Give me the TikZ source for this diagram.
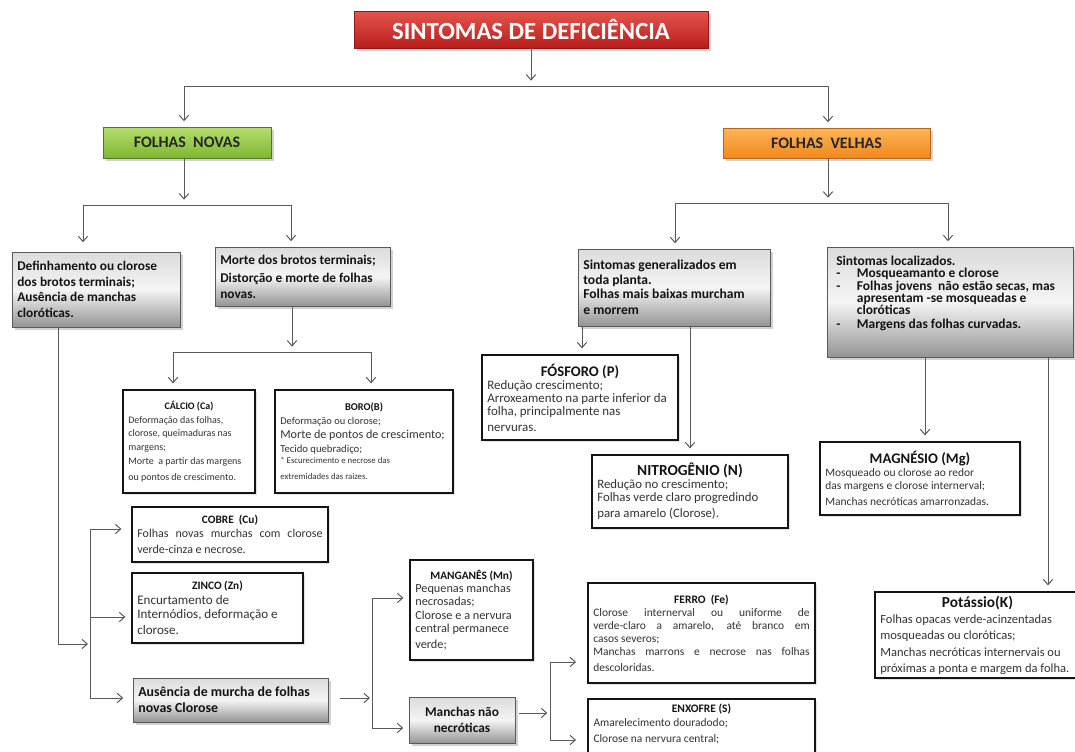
\documentclass[tikz,border=0pt]{standalone}
\usepackage{fontspec}
\setmainfont{Carlito}
\usetikzlibrary{arrows.meta,shadows,calc}
\definecolor{lnc}{HTML}{5A5A5A}
\definecolor{rtop}{HTML}{E5544D}
\definecolor{rbot}{HTML}{B81E1C}
\definecolor{rdraw}{HTML}{8E1A18}
\definecolor{gtop}{HTML}{B6DF6E}
\definecolor{gbot}{HTML}{7DB633}
\definecolor{gdraw}{HTML}{4F7A21}
\definecolor{otop}{HTML}{FDB55A}
\definecolor{obot}{HTML}{F2891C}
\definecolor{odraw}{HTML}{B5651A}
\definecolor{hdtext}{HTML}{262626}
\newcommand\myfs[2]{\fontsize{#1pt}{#2pt}\selectfont\spaceskip=\fontdimen2\font\relax
  \xspaceskip=0pt\hyphenpenalty=10000\exhyphenpenalty=10000\lineskiplimit=-20pt\relax}
\newcommand\mytitle[1]{\makebox[\linewidth][c]{\bfseries\color{black!92}#1}}
\newcommand\myjust[1]{\makebox[\linewidth][s]{\spaceskip=\fontdimen2\font plus 1fil\relax #1}}
\newcommand\mydash{\makebox[15.5pt][l]{-}}
\newcommand\mybox[7]{%
  \pgfmathsetmacro\bxw{(#5-#3)*0.75}%
  \pgfmathsetmacro\bxh{(#6-#4)*0.75}%
  \pgfmathsetmacro\bxtw{(#5-#3)*0.75-8}%
  \pgfmathsetmacro\bxcx{(#3+#5)/2}%
  \pgfmathsetmacro\bxcy{(#4+#6)/2}%
  \node[#1, minimum width=\bxw pt, minimum height=\bxh pt, text width=\bxtw pt] (#2) at (\bxcx,\bxcy) {#7};}
\tikzset{
  ln/.style={draw=lnc, line width=0.75pt},
  arr/.style={ln, -{Straight Barb[length=4pt,width=7pt]}, shorten >=4pt},
  shd/.style={drop shadow={shadow xshift=2pt, shadow yshift=-2pt, opacity=0.35}},
  titleb/.style={draw=rdraw, line width=0.5pt, top color=rtop, bottom color=rbot, shd,
    text=white, font=\bfseries, align=center, inner xsep=4pt, inner ysep=1pt},
  greenb/.style={draw=gdraw, line width=0.6pt, top color=gtop, bottom color=gbot, shd,
    text=hdtext, font=\bfseries, align=center, inner xsep=4pt, inner ysep=1pt},
  orangeb/.style={draw=odraw, line width=0.6pt, top color=otop, bottom color=obot, shd,
    text=hdtext, font=\bfseries, align=center, inner xsep=4pt, inner ysep=1pt},
  grayb/.style={draw=black!65, line width=0.6pt, top color=black!14, bottom color=black!42,
    middle color=black!4, shd, text=black!92, font=\bfseries, align=left,
    inner xsep=4pt, inner ysep=1pt},
  elem/.style={draw=black!92, line width=1.9pt, fill=white, text=black!80, align=left,
    inner xsep=4pt, inner ysep=1pt,
    drop shadow={shadow xshift=1.2pt, shadow yshift=-1.2pt, opacity=0.22}},
  txt/.style={inner sep=0pt, align=left}
}
\begin{document}
\begin{tikzpicture}[x=0.75pt,y=-0.75pt]
\path[use as bounding box, clip] (0,0) rectangle (1075,751);
\fill[white] (0,0) rectangle (1075,751);

% ---------- header boxes
\mybox{titleb}{title}{354}{11}{708}{48}{\myfs{18.5}{20}SINTOMAS DE DEFICIÊNCIA}
\mybox{greenb}{novas}{103}{127}{271}{158}{\myfs{12}{14}FOLHAS\ \ NOVAS}
\mybox{orangeb}{velhas}{723}{128}{930}{158}{\myfs{12}{14}FOLHAS\ \ VELHAS}

% ---------- gray boxes
\mybox{grayb}{g1}{12}{252}{180}{327}{\myfs{10}{11.5}Definhamento ou clorose\\dos brotos terminais;\\Ausência de manchas\\cloróticas.}
\mybox{grayb}{g2}{215}{247}{390}{306}{\myfs{10}{13.7}Morte dos brotos terminais;\\Distorção e morte de folhas\\novas.}
\mybox{grayb}{g3}{578}{249}{770}{326}{\myfs{10.2}{11}Sintomas generalizados em\\toda planta.\\Folhas mais baixas murcham\\e morrem}
\mybox{grayb}{g4}{827}{247}{1073}{357}{}
\node[txt, font=\bfseries, text=black!92, text width=175pt, anchor=north west] (g4t) at (836,256)
  {\myfs{10.1}{9.2}Sintomas localizados.\\\mydash Mosqueamanto e clorose\\\mydash Folhas jovens\ \ não estão secas, mas\\\hspace*{15.5pt}apresentam -se mosqueadas e\\\hspace*{15.5pt}cloróticas\\[-2pt]\mydash Margens das folhas curvadas.};

% ---------- element boxes
\mybox{elem}{ca}{123}{390}{255}{493}{\myfs{7.5}{10.4}\mytitle{CÁLCIO (Ca)}\\Deformação das folhas,\\clorose, queimaduras nas\\margens;\\Morte\ \ a partir das margens\\ou pontos de crescimento.}
\mybox{elem}{bo}{275}{390}{453}{493}{\myfs{7.8}{10.4}\mytitle{BORO(B)}\\Deformação ou clorose;\\{\myfs{9.1}{10.4}Morte de pontos de crescimento;}\\{\myfs{8}{10.4}Tecido quebradiço;}\\\myfs{6.6}{8.4}* Escurecimento e necrose das\\extremidades das raizes.}
\mybox{elem}{fo}{482}{355}{678}{440}{\myfs{9.7}{9.8}\mytitle{\myfs{11}{13}FÓSFORO (P)}\\Redução crescimento;\\Arroxeamento na parte inferior da\\folha, principalmente nas\\nervuras.}
\mybox{elem}{ni}{592}{455}{788}{528}{\myfs{9.6}{9.6}\mytitle{\myfs{11.5}{13}NITROGÊNIO (N)}\\Redução no crescimento;\\Folhas verde claro progredindo\\para amarelo (Clorose).}
\mybox{elem}{mg}{820}{442}{1020}{515}{\myfs{8.6}{10}\mytitle{\myfs{11}{13}MAGNÉSIO (Mg)}\\Mosqueado ou clorose ao redor\\das margens e clorose internerval;\\Manchas necróticas amarronzadas.}
\mybox{elem}{k}{875}{592}{1080}{678}{\myfs{9.4}{12.2}\mytitle{\myfs{11.5}{13}Potássio(K)}\\Folhas opacas verde-acinzentadas\\mosqueadas ou cloróticas;\\Manchas necróticas internervais ou\\próximas a ponta e margem da folha.}
\mybox{elem}{cu}{132}{507}{328}{562}{\myfs{9}{10.5}\mytitle{\myfs{8.5}{10}COBRE\ \ (Cu)}\\\myjust{Folhas novas murchas com clorose}\\verde-cinza e necrose.}
\mybox{elem}{zn}{132}{573}{303}{643}{\myfs{9.8}{11}\mytitle{\myfs{8.5}{10}ZINCO (Zn)}\\Encurtamento de\\Internódios, deformação e\\clorose.}
\mybox{grayb}{au}{133}{678}{328}{722}{\myfs{10.4}{11.5}Ausência de murcha de folhas\\novas Clorose}
\mybox{elem}{mn}{410}{560}{533}{660}{\myfs{9.2}{9.9}\mytitle{\myfs{8.5}{10}MANGANÊS (Mn)}\\Pequenas manchas\\necrosadas;\\Clorose e a nervura\\central permanece\\verde;}
\mybox{grayb, align=center}{mc}{409}{697}{515}{743}{\myfs{10}{11}Manchas não\\necróticas}
\mybox{elem}{fe}{588}{583}{815}{683}{\myfs{8.6}{9.8}\mytitle{\myfs{8.6}{10}FERRO\ \ (Fe)}\\\myjust{Clorose internerval ou uniforme de}\\\myjust{verde-claro a amarelo, até branco em}\\casos severos;\\\myjust{Manchas marrons e necrose nas folhas}\\descoloridas.}
\mybox{elem}{en}{588}{699}{815}{790}{}
\node[txt, text=black!80, text width=162pt, anchor=north] (ent) at (701.5,704)
  {\myfs{8.6}{10}\mytitle{\myfs{8.6}{10}ENXOFRE (S)}\\Amarelecimento douradodo;\\Clorose na nervura central;};

% ---------- connectors
\coordinate (t1) at (531,86); \coordinate (tL) at (184,86); \coordinate (tR) at (828,86);
\draw[arr] (title.south) -- (t1);
\draw[ln] (tL) -- (tR);
\draw[arr] (tL) -- (tL |- novas.north);
\draw[arr] (tR) -- (tR |- velhas.north);

\coordinate (n1) at (184,205); \coordinate (nL) at (83,205); \coordinate (nR) at (291,205);
\draw[arr] (n1 |- novas.south) -- (n1);
\draw[ln] (nL) -- (nR);
\draw[arr, shorten >=7pt] (nL) -- (nL |- g1.north);
\draw[arr] (nR) -- (nR |- g2.north);

\coordinate (v1) at (828,203); \coordinate (vL) at (675,203); \coordinate (vR) at (948,203);
\draw[arr] (v1 |- velhas.south) -- (v1);
\draw[ln] (vL) -- (vR);
\draw[arr] (vL) -- (vL |- g3.north);
\draw[arr] (vR) -- (vR |- g4.north);

\coordinate (m1) at (292,352); \coordinate (mL) at (173,352); \coordinate (mR) at (371,352);
\draw[arr] (m1 |- g2.south) -- (m1);
\draw[ln] (mL) -- (mR);
\draw[arr] (mL) -- (mL |- ca.north);
\draw[arr] (mR) -- (mR |- bo.north);

\coordinate (xa) at (582,340); \coordinate (xb) at (690,400);
\coordinate (xc) at (925,400); \coordinate (xd) at (1048,400);
\draw[arr] (xa |- g3.south) -- (xa |- fo.north);
\draw[arr] (xb |- g3.south) -- (xb |- ni.north);
\draw[arr] (xc |- g4.south) -- (xc |- mg.north);
\draw[arr] (xd |- g4.south) -- (xd |- k.north);

\coordinate (a1) at (58,644); \coordinate (a2) at (90,644);
\draw[arr, shorten >=1.5pt] (a1 |- g1.south) -- (a1) -- (a2);
\coordinate (aT) at (90,529); \coordinate (aZ) at (90,617); \coordinate (aB) at (90,698);
\draw[ln] (aT) -- (aB);
\draw[arr, shorten >=7pt] (aT) -- (aT -| cu.west);
\draw[arr, shorten >=4pt] (aZ) -- (aZ -| zn.west);
\draw[arr, shorten >=7pt] (aB) -- (aB -| au.west);

\coordinate (bT) at (372,598); \coordinate (bM) at (372,698); \coordinate (bB) at (372,728);
\draw[arr, shorten <=9pt, shorten >=1.5pt] (au.east |- bM) -- (bM);
\draw[ln] (bT) -- (bB);
\draw[arr] (bT) -- (bT -| mn.west);
\draw[arr] (bB) -- (bB -| mc.west);

\coordinate (cT) at (550,662); \coordinate (cM) at (550,713); \coordinate (cB) at (550,740);
\draw[arr, shorten <=3pt, shorten >=2pt] (mc.east |- cM) -- (cM);
\draw[ln] (cT) -- (cB);
\draw[arr, shorten >=8pt] (cT) -- (cT -| fe.west);
\draw[arr, shorten >=8pt] (cB) -- (cB -| en.west);
\end{tikzpicture}
\end{document}
